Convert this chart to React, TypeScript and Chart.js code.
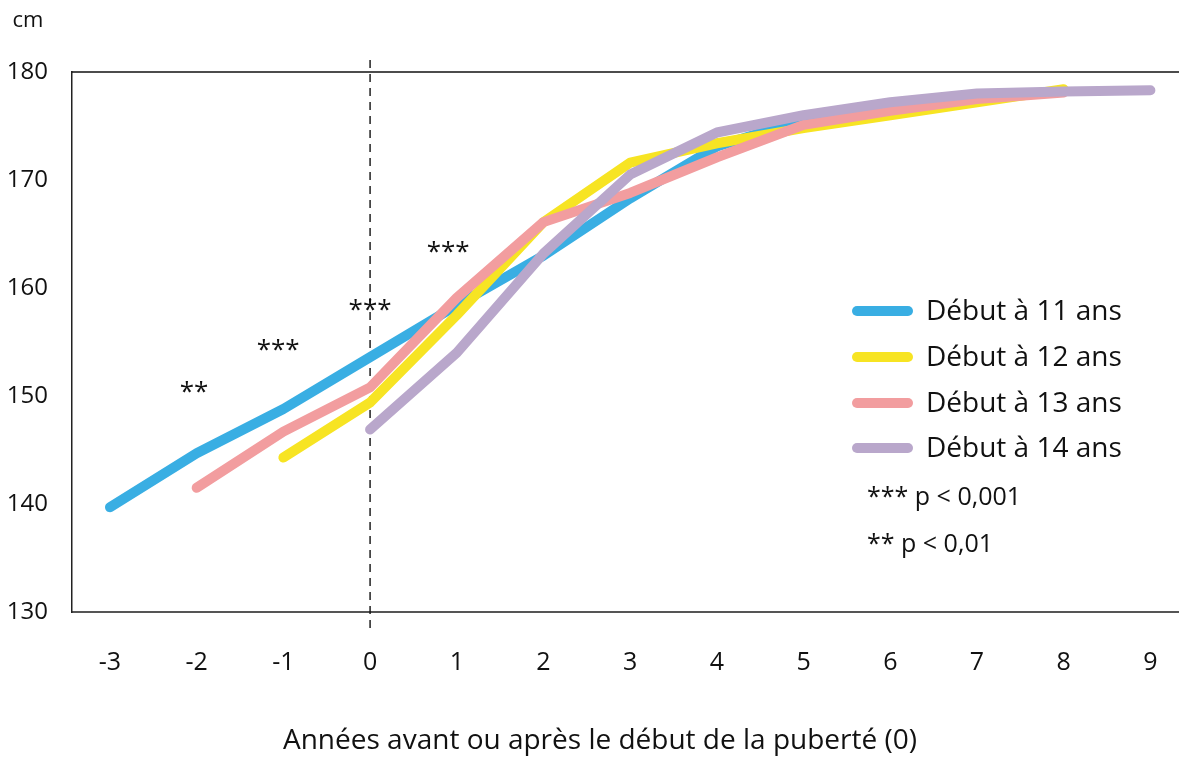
import React, { useEffect, useRef } from "react";
import { Chart, registerables } from "chart.js";

Chart.register(...registerables);

const years = [-3, -2, -1, 0, 1, 2, 3, 4, 5, 6, 7, 8, 9];
const debut11 = [139.7, 144.7, 148.8, 153.6, 158.4, 163.0, 168.3, 173.1, 175.6, 176.6, 177.6, 178.2, null];
const debut12 = [null, null, 144.3, 149.4, 157.5, 166.1, 171.6, 173.4, 174.8, 176.0, 177.2, 178.4, null];
const debut13 = [null, 141.5, 146.7, 150.8, 159.1, 166.1, 168.8, 172.1, 175.1, 176.4, 177.5, 178.1, null];
const debut14 = [null, null, null, 146.9, 154.0, 163.2, 170.5, 174.4, 176.0, 177.2, 178.0, 178.2, 178.3];
const seriesLabels = ["Début à 11 ans", "Début à 12 ans", "Début à 13 ans", "Début à 14 ans"];
const seriesColors = ["#39AEE3", "#F7E423", "#F29D9F", "#B9A7CB"];
const yTicks = [130, 140, 150, 160, 170, 180];

const starTexts = ["**", "***", "***", "***"];
const starX = [-2.03, -1.06, 0, 0.9];
const starY = [150.3, 154.2, 157.9, 163.3];

const noteTexts = ["*** p < 0,001", "** p < 0,01"];
const axisTitle = "Années avant ou après le début de la puberté (0)";
const unitLabel = "cm";

const FONT = "'Open Sans', 'Noto Sans', sans-serif";

function toPoints(arr: (number | null)[]) {
  const pts: { x: number; y: number }[] = [];
  arr.forEach((v, i) => {
    if (v !== null) pts.push({ x: years[i], y: v });
  });
  return pts;
}

const decorPlugin = {
  id: "decor",
  beforeDatasetsDraw(chart: any) {
    const { ctx, chartArea, scales } = chart;
    const x0 = scales.x.getPixelForValue(0);
    ctx.save();
    ctx.strokeStyle = "#111";
    ctx.lineWidth = 1.5;
    ctx.beginPath();
    ctx.moveTo(chartArea.left, chartArea.top);
    ctx.lineTo(chartArea.right, chartArea.top);
    ctx.stroke();
    ctx.setLineDash([8, 6]);
    ctx.lineWidth = 1.4;
    ctx.beginPath();
    ctx.moveTo(x0, chartArea.top - 12);
    ctx.lineTo(x0, chartArea.bottom + 18);
    ctx.stroke();
    ctx.restore();
  },
  afterDatasetsDraw(chart: any) {
    const { ctx, scales } = chart;
    ctx.save();
    ctx.fillStyle = "#111";
    ctx.textAlign = "center";
    ctx.textBaseline = "middle";
    ctx.font = `26px ${FONT}`;
    starTexts.forEach((t, i) => {
      ctx.fillText(t, scales.x.getPixelForValue(starX[i]), scales.y.getPixelForValue(starY[i]));
    });
    ctx.restore();
  },
  afterDraw(chart: any) {
    const { ctx } = chart;
    ctx.save();
    ctx.fillStyle = "#111";
    ctx.font = `22px ${FONT}`;
    ctx.textAlign = "center";
    ctx.textBaseline = "middle";
    ctx.fillText(unitLabel, 28, 21);
    ctx.font = `28px ${FONT}`;
    ctx.fillText(axisTitle, 600, 741);
    const legendY = [311, 357, 403, 448];
    chart.data.datasets.forEach((ds: any, i: number) => {
      ctx.strokeStyle = ds.borderColor;
      ctx.lineWidth = 10;
      ctx.lineCap = "round";
      ctx.beginPath();
      ctx.moveTo(857, legendY[i]);
      ctx.lineTo(908, legendY[i]);
      ctx.stroke();
      ctx.fillStyle = "#111";
      ctx.textAlign = "left";
      ctx.font = `28px ${FONT}`;
      ctx.fillText(ds.label, 926, legendY[i] + 1);
    });
    ctx.font = `25px ${FONT}`;
    ctx.fillText(noteTexts[0], 867, 498);
    ctx.fillText(noteTexts[1], 867, 545);
    ctx.restore();
  },
};

export default function App() {
  const ref = useRef<HTMLCanvasElement>(null);
  useEffect(() => {
    if (!ref.current) return;
    const all = [debut11, debut12, debut13, debut14];
    const chart = new Chart(ref.current, {
      type: "line",
      data: {
        datasets: all.map((arr, i) => ({
          label: seriesLabels[i],
          data: toPoints(arr),
          borderColor: seriesColors[i],
          backgroundColor: seriesColors[i],
          borderWidth: 10,
          borderCapStyle: "round",
          borderJoinStyle: "round",
          pointRadius: 0,
          tension: 0,
          fill: false,
          order: 4 - i,
        })),
      },
      options: {
        responsive: false,
        animation: false,
        layout: { padding: { top: 72, right: 0, left: 0, bottom: 0 } },
        plugins: {
          legend: { display: false },
          tooltip: { enabled: false },
        },
        scales: {
          x: {
            type: "linear",
            min: -3.438,
            max: 9.33,
            afterBuildTicks: (scale: any) => {
              scale.ticks = years.map((v) => ({ value: v }));
            },
            afterFit: (scale: any) => {
              scale.height = 145;
              scale.paddingLeft = 0;
              scale.paddingRight = 0;
            },
            grid: { display: false, drawTicks: false },
            border: { display: true, color: "#555", width: 2 },
            ticks: {
              font: { family: FONT, size: 25 },
              color: "#111",
              padding: 36,
              maxRotation: 0,
              autoSkip: false,
              callback: (v: any) => String(v),
            },
          },
          y: {
            min: 130,
            max: 180,
            afterBuildTicks: (scale: any) => {
              scale.ticks = yTicks.map((v) => ({ value: v }));
            },
            afterFit: (scale: any) => {
              scale.width = 72;
              scale.paddingTop = 0;
              scale.paddingBottom = 0;
            },
            grid: { display: false, drawTicks: false },
            border: { display: true, color: "#222", width: 1.5 },
            ticks: {
              font: { family: FONT, size: 24 },
              color: "#111",
              padding: 24,
              callback: (v: any) => String(v),
            },
          },
        },
      },
      plugins: [decorPlugin],
    } as any);
    return () => chart.destroy();
  }, []);
  return (
    <div style={{ position: "absolute", left: 0, top: 0, width: 1179, height: 757, background: "#fff" }}>
      <canvas ref={ref} width={1179} height={757} style={{ display: "block" }} />
    </div>
  );
}
